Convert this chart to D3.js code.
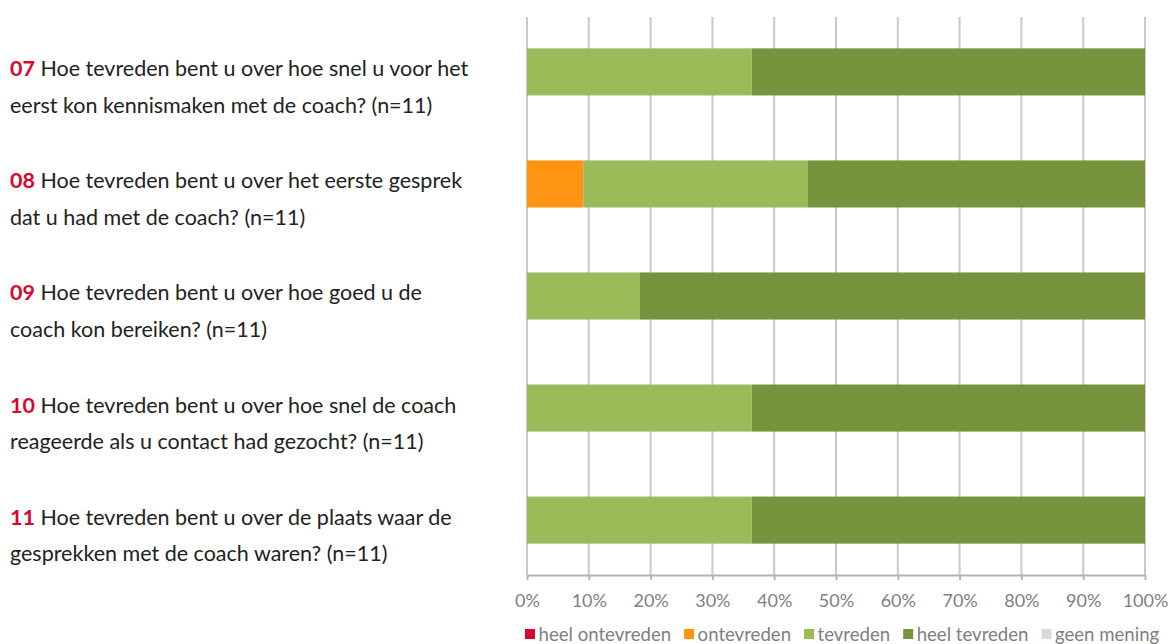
<!DOCTYPE html>
<html>
<head>
<meta charset="utf-8">
<script src="https://cdn.jsdelivr.net/npm/d3@7"></script>
<style>
  html, body { margin: 0; padding: 0; background: #fff; }
  svg { display: block; font-family: Lato, "Open Sans", sans-serif; }
</style>
</head>
<body>
<svg id="chart" width="1172" height="644"></svg>
<script>
// Survey questions (number + two-line wording)
const questionIds = ["07", "08", "09", "10", "11"];
const questionLines = [
  ["Hoe tevreden bent u over hoe snel u voor het", "eerst kon kennismaken met de coach? (n=11)"],
  ["Hoe tevreden bent u over het eerste gesprek", "dat u had met de coach? (n=11)"],
  ["Hoe tevreden bent u over hoe goed u de", "coach kon bereiken? (n=11)"],
  ["Hoe tevreden bent u over hoe snel de coach", "reageerde als u contact had gezocht? (n=11)"],
  ["Hoe tevreden bent u over de plaats waar de", "gesprekken met de coach waren? (n=11)"]
];

// Answer categories and shares per question (counts out of n=11)
const seriesNames = ["heel ontevreden", "ontevreden", "tevreden", "heel tevreden", "geen mening"];
const seriesColors = ["#D9072F", "#FF9413", "#9BBB59", "#77933C", "#D9D9D9"];
const heelOntevreden = [0, 0, 0, 0, 0];
const ontevreden     = [0, 1 / 11, 0, 0, 0];
const tevreden       = [4 / 11, 4 / 11, 2 / 11, 4 / 11, 4 / 11];
const heelTevreden   = [7 / 11, 6 / 11, 9 / 11, 7 / 11, 7 / 11];
const geenMening     = [0, 0, 0, 0, 0];

const tickValues = [0, 0.1, 0.2, 0.3, 0.4, 0.5, 0.6, 0.7, 0.8, 0.9, 1];

const rows = questionIds.map((id, i) => ({
  id,
  "heel ontevreden": heelOntevreden[i],
  "ontevreden": ontevreden[i],
  "tevreden": tevreden[i],
  "heel tevreden": heelTevreden[i],
  "geen mening": geenMening[i]
}));

const svg = d3.select("#chart");
const plot = { left: 527, right: 1145, top: 17, bottom: 575 };

const x = d3.scaleLinear().domain([0, 1]).range([plot.left, plot.right]);
const y = d3.scaleBand().domain(questionIds).range([plot.top, plot.bottom]).paddingInner(0.58).paddingOuter(0.28);
const color = d3.scaleOrdinal().domain(seriesNames).range(seriesColors);

// Vertical gridlines
svg.append("g")
  .selectAll("line")
  .data(tickValues)
  .join("line")
  .attr("x1", d => x(d)).attr("x2", d => x(d))
  .attr("y1", plot.top).attr("y2", plot.bottom)
  .attr("stroke", "#c9c9c9")
  .attr("stroke-width", 2);

// Stacked bars
const stacked = d3.stack().keys(seriesNames)(rows);
svg.append("g")
  .selectAll("g")
  .data(stacked)
  .join("g")
  .attr("fill", d => color(d.key))
  .selectAll("rect")
  .data(d => d)
  .join("rect")
  .attr("x", d => x(d[0]))
  .attr("y", d => y(d.data.id))
  .attr("width", d => x(d[1]) - x(d[0]))
  .attr("height", y.bandwidth());

// Bottom axis
const axis = svg.append("g")
  .attr("transform", `translate(0,${plot.bottom})`)
  .call(d3.axisBottom(x).tickValues(tickValues).tickFormat(d3.format(".0%")).tickSize(5).tickSizeOuter(0).tickPadding(14));
axis.select(".domain").attr("stroke", "#b3b3b3").attr("stroke-width", 2);
axis.selectAll(".tick line").attr("stroke", "#b3b3b3").attr("stroke-width", 2);
axis.selectAll(".tick text")
  .attr("fill", "#808080")
  .style("font-size", "18px")
  .style("font-family", "Lato, sans-serif");

// Question labels
const labels = svg.append("g")
  .selectAll("text")
  .data(questionIds)
  .join("text")
  .attr("x", 10)
  .attr("y", d => y(d) + 28)
  .attr("fill", "#222")
  .style("font-size", "21.5px");
labels.each(function (id, i) {
  const t = d3.select(this);
  t.append("tspan").attr("fill", "#D9072F").attr("font-weight", "bold").text(id);
  t.append("tspan").text(" " + questionLines[i][0]);
  t.append("tspan").attr("x", 10).attr("dy", 36.5).text(questionLines[i][1]);
});

// Legend
const legend = svg.append("g").attr("transform", "translate(525,629)");
let lx = 0;
seriesNames.forEach(name => {
  const g = legend.append("g").attr("transform", `translate(${lx},0)`);
  g.append("rect").attr("width", 10).attr("height", 10).attr("fill", color(name));
  const txt = g.append("text")
    .attr("x", 13.5).attr("y", 11.5)
    .attr("fill", "#808080")
    .style("font-size", "18.6px")
    .text(name);
  lx += 13.5 + txt.node().getComputedTextLength() + 13;
});
</script>
</body>
</html>
